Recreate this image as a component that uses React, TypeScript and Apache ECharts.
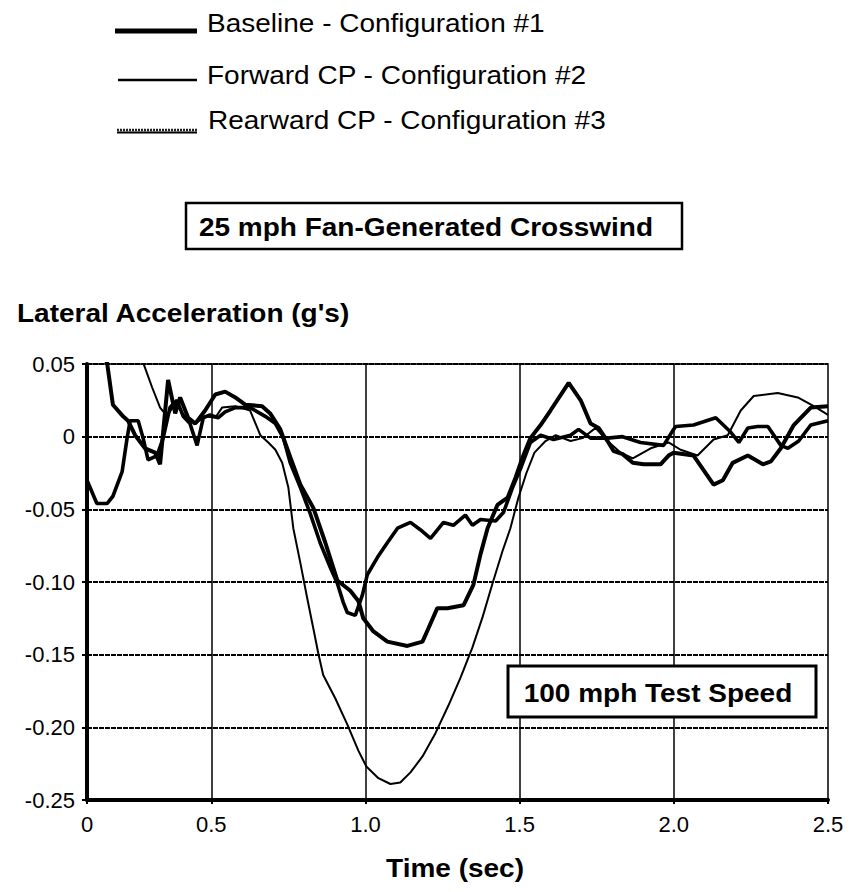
import React, { useEffect, useRef } from "react";
import * as echarts from "echarts";

const legendLabels = [
  "Baseline - Configuration #1",
  "Forward CP - Configuration #2",
  "Rearward CP - Configuration #3",
];
const windTitle = "25 mph Fan-Generated Crosswind";
const speedTitle = "100 mph Test Speed";
const yTitle = "Lateral Acceleration (g's)";
const xTitle = "Time (sec)";

const xTickValues = [0.097, 0.5, 1.0, 1.5, 2.0, 2.5];
const xGridValues = [0.5, 1.0, 1.5, 2.0];

// [time (s), lateral acceleration (g)]
const baseline: number[][] = [
  [0.097, 0.075], [0.162, 0.051], [0.181, 0.022], [0.214, 0.014], [0.23, 0.011],
  [0.253, 0.001], [0.285, -0.008], [0.318, -0.011], [0.334, -0.019], [0.36, 0.039],
  [0.383, 0.016], [0.399, 0.027], [0.425, 0.013], [0.448, 0.009], [0.48, 0.018],
  [0.513, 0.029], [0.545, 0.031], [0.578, 0.027], [0.61, 0.022], [0.665, 0.021],
  [0.691, 0.016], [0.724, 0.005], [0.756, -0.014], [0.789, -0.033], [0.831, -0.049],
  [0.87, -0.073], [0.909, -0.099], [0.951, -0.106], [0.977, -0.113], [0.993, -0.125],
  [1.026, -0.134], [1.071, -0.141], [1.136, -0.144], [1.185, -0.141], [1.204, -0.132],
  [1.233, -0.118], [1.266, -0.118], [1.318, -0.116], [1.35, -0.102], [1.373, -0.081],
  [1.396, -0.063], [1.428, -0.047], [1.461, -0.042], [1.487, -0.028], [1.51, -0.014],
  [1.535, -0.001], [1.568, 0.008], [1.6, 0.018], [1.659, 0.037], [1.698, 0.025],
  [1.73, 0.009], [1.756, 0.006], [1.785, -0.003], [1.805, -0.01], [1.834, -0.012],
  [1.867, -0.018], [1.902, -0.019], [1.957, -0.019], [1.983, -0.013], [1.999, -0.011],
  [2.064, -0.013], [2.129, -0.033], [2.159, -0.03], [2.191, -0.018], [2.24, -0.013],
  [2.289, -0.019], [2.315, -0.017], [2.347, -0.008], [2.389, 0.008], [2.444, 0.02],
  [2.5, 0.021],
];

const forward: number[][] = [
  [0.097, 0.095], [0.279, 0.051], [0.308, 0.034], [0.334, 0.02], [0.357, 0.014],
  [0.383, 0.023], [0.415, 0.014], [0.448, 0.009], [0.48, 0.014], [0.513, 0.013],
  [0.535, 0.02], [0.578, 0.021], [0.626, 0.018], [0.659, 0.001], [0.685, -0.004],
  [0.708, -0.009], [0.73, -0.018], [0.75, -0.035], [0.766, -0.063], [0.789, -0.087],
  [0.811, -0.111], [0.831, -0.132], [0.847, -0.149], [0.863, -0.164], [0.902, -0.18],
  [0.941, -0.198], [0.977, -0.216], [1.003, -0.227], [1.042, -0.235], [1.081, -0.239],
  [1.113, -0.238], [1.146, -0.231], [1.185, -0.22], [1.227, -0.204], [1.269, -0.185],
  [1.308, -0.166], [1.347, -0.145], [1.38, -0.124], [1.412, -0.101], [1.444, -0.079],
  [1.47, -0.063], [1.496, -0.042], [1.522, -0.025], [1.548, -0.011], [1.584, -0.003],
  [1.617, 0.001], [1.665, -0.003], [1.704, -0.001], [1.746, 0.006], [1.785, -0.003],
  [1.828, -0.011], [1.867, -0.015], [1.925, -0.008], [1.983, -0.004], [2.022, -0.009],
  [2.077, -0.013], [2.129, -0.002], [2.175, 0.001], [2.217, 0.018], [2.259, 0.028],
  [2.337, 0.03], [2.402, 0.027], [2.454, 0.021], [2.5, 0.015],
];

const rearward: number[][] = [
  [0.097, -0.03], [0.129, -0.046], [0.162, -0.046], [0.181, -0.041], [0.211, -0.024],
  [0.227, -0.001], [0.237, 0.011], [0.263, 0.011], [0.279, -0.001], [0.295, -0.016],
  [0.324, -0.013], [0.344, -0.001], [0.366, 0.02], [0.389, 0.025], [0.409, 0.014],
  [0.431, 0.009], [0.454, -0.006], [0.474, 0.013], [0.496, 0.015], [0.522, 0.013],
  [0.545, 0.017], [0.578, 0.02], [0.626, 0.02], [0.675, 0.014], [0.708, 0.009],
  [0.734, -0.001], [0.756, -0.018], [0.789, -0.035], [0.821, -0.053], [0.853, -0.073],
  [0.886, -0.09], [0.909, -0.101], [0.928, -0.114], [0.941, -0.121], [0.967, -0.123],
  [0.99, -0.109], [1.006, -0.095], [1.039, -0.083], [1.071, -0.073], [1.104, -0.063],
  [1.146, -0.059], [1.178, -0.064], [1.211, -0.07], [1.253, -0.059], [1.285, -0.061],
  [1.324, -0.054], [1.347, -0.061], [1.373, -0.057], [1.422, -0.058], [1.448, -0.052],
  [1.477, -0.035], [1.503, -0.022], [1.535, -0.004], [1.568, 0.001], [1.61, -0.002],
  [1.665, 0.001], [1.691, 0.005], [1.73, -0.001], [1.785, -0.001], [1.834, 0.0],
  [1.892, -0.004], [1.967, -0.006], [1.996, 0.004], [2.006, 0.007], [2.064, 0.008],
  [2.136, 0.013], [2.185, 0.003], [2.211, -0.004], [2.24, 0.006], [2.272, 0.007],
  [2.305, 0.007], [2.347, -0.006], [2.37, -0.008], [2.405, -0.003], [2.444, 0.008],
  [2.5, 0.011],
];

const FONT = "'Liberation Sans', Arial, Helvetica, sans-serif";

function txt(text: string, x: number, y: number, opts: any = {}) {
  return {
    type: "text",
    x,
    y,
    scaleX: 1.12,
    z: 110,
    style: {
      text,
      fill: "#000",
      fontSize: opts.size || 25,
      fontWeight: opts.bold ? "bold" : "normal",
      fontFamily: FONT,
      align: opts.align || "left",
      textAlign: opts.align || "left",
      verticalAlign: "middle",
      textVerticalAlign: "middle",
    },
  };
}

export default function App() {
  const ref = useRef<HTMLDivElement>(null);
  useEffect(() => {
    if (!ref.current) return;
    const chart = echarts.init(ref.current, undefined, { renderer: "svg" });
    const lineSeries = (name: string, data: number[][], width: number, extra: any = {}) => ({
      name,
      type: "line",
      data,
      symbol: "none",
      showSymbol: false,
      clip: true,
      lineStyle: { color: "#000", width },
      z: 5,
      ...extra,
    });
    chart.setOption({
      animation: false,
      backgroundColor: "#fff",
      grid: {
        left: 87,
        right: 31,
        top: 364,
        bottom: 92,
        show: true,
        borderColor: "#000",
        borderWidth: 1.5,
        backgroundColor: "transparent",
      },
      xAxis: {
        type: "value",
        min: 0.097,
        max: 2.5,
        axisLine: { show: true, onZero: false, lineStyle: { color: "#000", width: 4 } },
        axisTick: {
          show: true,
          customValues: xTickValues,
          length: 4,
          lineStyle: { color: "#000", width: 2 },
        },
        axisLabel: {
          customValues: xTickValues,
          formatter: (v: number) => (v < 0.2 ? "0" : v.toFixed(1)),
          fontSize: 22,
          fontFamily: FONT,
          color: "#000",
          margin: 13,
        },
        splitLine: { show: false },
      },
      yAxis: {
        type: "value",
        min: -0.25,
        max: 0.05,
        interval: 0.05,
        axisLine: { show: true, lineStyle: { color: "#000", width: 4 } },
        axisTick: { show: true, length: 5, lineStyle: { color: "#000", width: 2 } },
        axisLabel: {
          formatter: (v: number) => (Math.abs(v) < 1e-9 ? "0" : v.toFixed(2)),
          fontSize: 22,
          fontFamily: FONT,
          color: "#000",
          margin: 12,
        },
        splitLine: { show: true, lineStyle: { color: "#000", width: 1.8, type: [5, 1] } },
      },
      series: [
        lineSeries(legendLabels[0], baseline, 4, {
          markLine: {
            silent: true,
            symbol: ["none", "none"],
            label: { show: false },
            lineStyle: { color: "#000", width: 1.5, type: "solid" },
            data: xGridValues.map((v) => ({ xAxis: v })),
            z: 1,
          },
        }),
        lineSeries(legendLabels[1], forward, 2),
        lineSeries(legendLabels[2], rearward, 3.6),
      ],
      graphic: [
        { type: "line", z: 110, shape: { x1: 115, y1: 31, x2: 197, y2: 31 }, style: { stroke: "#000", lineWidth: 5 } },
        { type: "line", z: 110, shape: { x1: 118, y1: 80, x2: 197, y2: 80 }, style: { stroke: "#000", lineWidth: 2.5 } },
        { type: "line", z: 110, shape: { x1: 117, y1: 130, x2: 197, y2: 130 }, style: { stroke: "#222", lineWidth: 2.5, lineDash: [2, 1] } },
        { type: "line", z: 110, shape: { x1: 117, y1: 132.5, x2: 197, y2: 132.5 }, style: { stroke: "#000", lineWidth: 2 } },
        txt(legendLabels[0], 207, 24),
        txt(legendLabels[1], 207, 76),
        txt(legendLabels[2], 208, 121),
        {
          type: "rect",
          z: 105,
          shape: { x: 186, y: 203, width: 496, height: 46 },
          style: { fill: "#fff", stroke: "#000", lineWidth: 2.5 },
        },
        txt(windTitle, 426, 228, { bold: true, align: "center" }),
        txt(yTitle, 17, 314, { bold: true }),
        {
          type: "rect",
          z: 105,
          shape: { x: 508, y: 666, width: 308, height: 51 },
          style: { fill: "#fff", stroke: "#000", lineWidth: 3 },
        },
        txt(speedTitle, 658, 694, { bold: true, align: "center" }),
        txt(xTitle, 455, 869, { bold: true, align: "center" }),
      ],
    });
    return () => chart.dispose();
  }, []);
  return (
    <div
      ref={ref}
      style={{ position: "absolute", left: 0, top: 0, width: 859, height: 892, background: "#fff" }}
    />
  );
}
